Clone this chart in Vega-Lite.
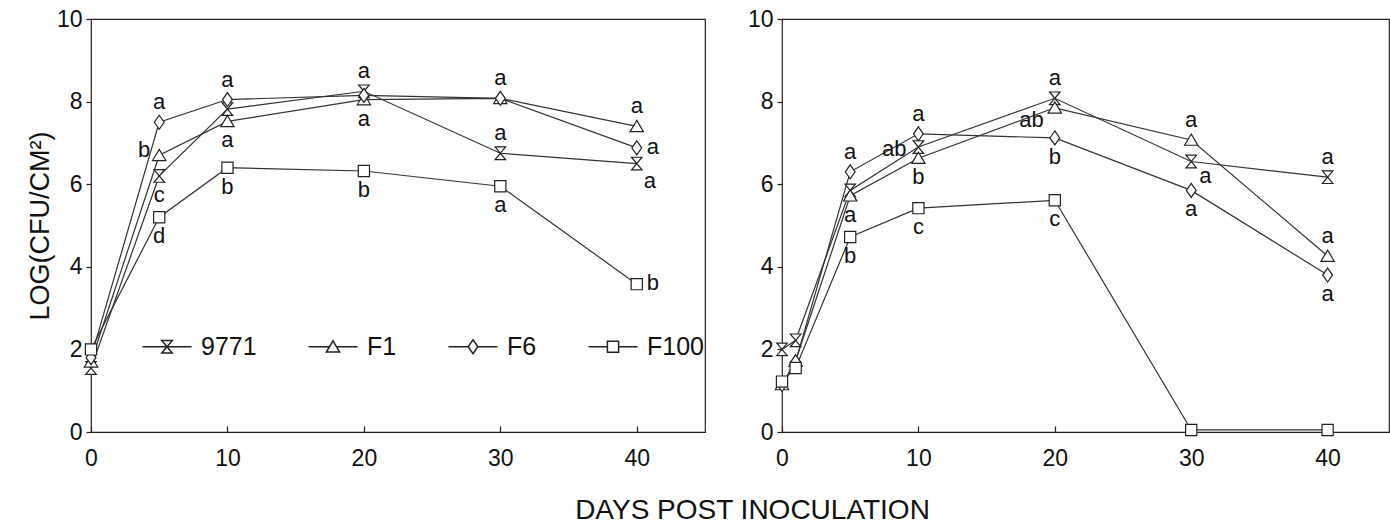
{
  "$schema": "https://vega.github.io/schema/vega-lite/v6.json",
  "background": "white",
  "padding": {"left": 25, "top": 7, "right": 0, "bottom": 0},
  "config": {
    "view": {"stroke": "#222", "strokeWidth": 1.2},
    "font": "Liberation Sans",
    "axis": {"grid": false, "domain": false, "labelColor": "#111", "tickColor": "#222", "tickWidth": 1.2, "labelFont": "Liberation Sans", "labelFontSize": 23, "titleFont": "Liberation Sans", "titleFontWeight": "normal", "titleColor": "#111"},
    "axisX": {"tickSize": -6, "labelPadding": 21, "labelFlush": false},
    "axisY": {"tickSize": 5, "labelPadding": 4},
    "text": {"font": "Liberation Sans", "color": "#111"}
  },
  "datasets": {
    "pts": [
      {"panel": "A", "strain": "9771", "day": 0, "v": 1.55},
      {"panel": "A", "strain": "9771", "day": 5, "v": 6.2},
      {"panel": "A", "strain": "9771", "day": 10, "v": 7.82},
      {"panel": "A", "strain": "9771", "day": 20, "v": 8.25},
      {"panel": "A", "strain": "9771", "day": 30, "v": 6.75},
      {"panel": "A", "strain": "9771", "day": 40, "v": 6.5},
      {"panel": "A", "strain": "F1", "day": 0, "v": 1.7},
      {"panel": "A", "strain": "F1", "day": 5, "v": 6.7},
      {"panel": "A", "strain": "F1", "day": 10, "v": 7.52},
      {"panel": "A", "strain": "F1", "day": 20, "v": 8.05},
      {"panel": "A", "strain": "F1", "day": 30, "v": 8.08},
      {"panel": "A", "strain": "F1", "day": 40, "v": 7.4},
      {"panel": "A", "strain": "F6", "day": 0, "v": 1.8},
      {"panel": "A", "strain": "F6", "day": 5, "v": 7.5},
      {"panel": "A", "strain": "F6", "day": 10, "v": 8.05},
      {"panel": "A", "strain": "F6", "day": 20, "v": 8.15},
      {"panel": "A", "strain": "F6", "day": 30, "v": 8.08},
      {"panel": "A", "strain": "F6", "day": 40, "v": 6.88},
      {"panel": "A", "strain": "F100", "day": 0, "v": 2.0},
      {"panel": "A", "strain": "F100", "day": 5, "v": 5.2},
      {"panel": "A", "strain": "F100", "day": 10, "v": 6.4},
      {"panel": "A", "strain": "F100", "day": 20, "v": 6.32},
      {"panel": "A", "strain": "F100", "day": 30, "v": 5.95},
      {"panel": "A", "strain": "F100", "day": 40, "v": 3.58},
      {"panel": "B", "strain": "9771", "day": 0, "v": 2.0},
      {"panel": "B", "strain": "9771", "day": 1, "v": 2.22},
      {"panel": "B", "strain": "9771", "day": 5, "v": 5.85},
      {"panel": "B", "strain": "9771", "day": 10, "v": 6.9},
      {"panel": "B", "strain": "9771", "day": 20, "v": 8.08},
      {"panel": "B", "strain": "9771", "day": 30, "v": 6.55},
      {"panel": "B", "strain": "9771", "day": 40, "v": 6.17},
      {"panel": "B", "strain": "F1", "day": 0, "v": 1.15},
      {"panel": "B", "strain": "F1", "day": 1, "v": 1.72},
      {"panel": "B", "strain": "F1", "day": 5, "v": 5.72},
      {"panel": "B", "strain": "F1", "day": 10, "v": 6.63},
      {"panel": "B", "strain": "F1", "day": 20, "v": 7.85},
      {"panel": "B", "strain": "F1", "day": 30, "v": 7.07},
      {"panel": "B", "strain": "F1", "day": 40, "v": 4.26},
      {"panel": "B", "strain": "F6", "day": 0, "v": 1.15},
      {"panel": "B", "strain": "F6", "day": 1, "v": 1.7},
      {"panel": "B", "strain": "F6", "day": 5, "v": 6.3},
      {"panel": "B", "strain": "F6", "day": 10, "v": 7.22},
      {"panel": "B", "strain": "F6", "day": 20, "v": 7.12},
      {"panel": "B", "strain": "F6", "day": 30, "v": 5.85},
      {"panel": "B", "strain": "F6", "day": 40, "v": 3.8},
      {"panel": "B", "strain": "F100", "day": 0, "v": 1.22},
      {"panel": "B", "strain": "F100", "day": 1, "v": 1.55},
      {"panel": "B", "strain": "F100", "day": 5, "v": 4.72},
      {"panel": "B", "strain": "F100", "day": 10, "v": 5.42},
      {"panel": "B", "strain": "F100", "day": 20, "v": 5.61},
      {"panel": "B", "strain": "F100", "day": 30, "v": 0.05},
      {"panel": "B", "strain": "F100", "day": 40, "v": 0.05}
    ],
    "ann": [
      {"panel": "A", "strain": "F6", "day": 5, "v": 7.5, "label": "a", "pos": "above"},
      {"panel": "A", "strain": "F1", "day": 5, "v": 6.7, "label": "b", "pos": "left"},
      {"panel": "A", "strain": "9771", "day": 5, "v": 6.2, "label": "c", "pos": "below"},
      {"panel": "A", "strain": "F100", "day": 5, "v": 5.2, "label": "d", "pos": "below"},
      {"panel": "A", "strain": "F6", "day": 10, "v": 8.05, "label": "a", "pos": "above"},
      {"panel": "A", "strain": "F1", "day": 10, "v": 7.52, "label": "a", "pos": "below"},
      {"panel": "A", "strain": "F100", "day": 10, "v": 6.4, "label": "b", "pos": "below"},
      {"panel": "A", "strain": "9771", "day": 20, "v": 8.25, "label": "a", "pos": "above"},
      {"panel": "A", "strain": "F1", "day": 20, "v": 8.05, "label": "a", "pos": "below"},
      {"panel": "A", "strain": "F100", "day": 20, "v": 6.32, "label": "b", "pos": "below"},
      {"panel": "A", "strain": "F1", "day": 30, "v": 8.08, "label": "a", "pos": "above"},
      {"panel": "A", "strain": "9771", "day": 30, "v": 6.75, "label": "a", "pos": "above"},
      {"panel": "A", "strain": "F100", "day": 30, "v": 5.95, "label": "a", "pos": "below"},
      {"panel": "A", "strain": "F1", "day": 40, "v": 7.4, "label": "a", "pos": "above"},
      {"panel": "A", "strain": "F6", "day": 40, "v": 6.88, "label": "a", "pos": "right"},
      {"panel": "A", "strain": "9771", "day": 40, "v": 6.5, "label": "a", "pos": "lowright"},
      {"panel": "A", "strain": "F100", "day": 40, "v": 3.58, "label": "b", "pos": "right"},
      {"panel": "B", "strain": "F6", "day": 5, "v": 6.3, "label": "a", "pos": "above"},
      {"panel": "B", "strain": "F1", "day": 5, "v": 5.72, "label": "a", "pos": "below"},
      {"panel": "B", "strain": "F100", "day": 5, "v": 4.72, "label": "b", "pos": "below"},
      {"panel": "B", "strain": "F6", "day": 10, "v": 7.22, "label": "a", "pos": "above"},
      {"panel": "B", "strain": "9771", "day": 10, "v": 6.9, "label": "ab", "pos": "left"},
      {"panel": "B", "strain": "F1", "day": 10, "v": 6.63, "label": "b", "pos": "below"},
      {"panel": "B", "strain": "F100", "day": 10, "v": 5.42, "label": "c", "pos": "below"},
      {"panel": "B", "strain": "9771", "day": 20, "v": 8.08, "label": "a", "pos": "above"},
      {"panel": "B", "strain": "F1", "day": 20, "v": 7.85, "label": "ab", "pos": "lowleft"},
      {"panel": "B", "strain": "F6", "day": 20, "v": 7.12, "label": "b", "pos": "below"},
      {"panel": "B", "strain": "F100", "day": 20, "v": 5.61, "label": "c", "pos": "below"},
      {"panel": "B", "strain": "F1", "day": 30, "v": 7.07, "label": "a", "pos": "above"},
      {"panel": "B", "strain": "9771", "day": 30, "v": 6.55, "label": "a", "pos": "lowright"},
      {"panel": "B", "strain": "F6", "day": 30, "v": 5.85, "label": "a", "pos": "below"},
      {"panel": "B", "strain": "9771", "day": 40, "v": 6.17, "label": "a", "pos": "above"},
      {"panel": "B", "strain": "F1", "day": 40, "v": 4.26, "label": "a", "pos": "above"},
      {"panel": "B", "strain": "F6", "day": 40, "v": 3.8, "label": "a", "pos": "below"}
    ]
  },
  "spacing": 77,
  "bounds": "flush",
  "hconcat": [
    {
      "width": 614,
      "height": 413,
      "encoding": {
        "x": {"field": "day", "type": "quantitative", "scale": {"domain": [0, 45], "nice": false, "zero": false},
              "axis": {"values": [0, 10, 20, 30, 40], "title": "DAYS POST INOCULATION", "titleFontSize": 28, "titleX": 661, "titleY": 86, "titleBaseline": "alphabetic", "titleAlign": "center", "titleAnchor": null}},
        "y": {"field": "v", "type": "quantitative", "scale": {"domain": [0, 10], "nice": false},
              "axis": {"values": [0, 2, 4, 6, 8, 10], "title": "LOG(CFU/CM²)", "titleFontSize": 27, "titlePadding": 2}}
      },
      "layer": [
        {"data": {"name": "pts"}, "transform": [{"filter": "datum.panel === 'A'"}],
         "mark": {"type": "line", "color": "#333", "strokeWidth": 1.2},
         "encoding": {"detail": {"field": "strain", "type": "nominal"}}},
        {"data": {"name": "pts"}, "transform": [{"filter": "datum.panel === 'A'"}],
         "mark": {"type": "point", "filled": true, "fill": "white", "stroke": "#222", "strokeWidth": 1.2, "size": 196, "opacity": 1},
         "encoding": {"shape": {"field": "strain", "type": "nominal",
           "scale": {"domain": ["9771", "F1", "F6", "F100"], "range": ["M-0.75,-0.9H0.75L-0.75,0.9H0.75Z", "M0,-0.85L0.95,0.75L-0.95,0.75Z", "M0,-1L0.7,0L0,1L-0.7,0Z", "M-0.8,-0.8H0.8V0.8H-0.8Z"]},
           "legend": null}}},
        {"data": {"name": "pts"}, "transform": [{"filter": "datum.panel === 'none'"}],
         "mark": {"type": "point", "filled": true, "fill": "white", "stroke": "#222", "strokeWidth": 1.2, "size": 196, "opacity": 1},
         "encoding": {"shape": {"field": "strain", "type": "nominal",
           "scale": {"domain": ["9771", "F1", "F6", "F100"], "range": ["M-3.5,0H3.5M-0.75,-0.9H0.75L-0.75,0.9H0.75Z", "M-3.5,0H-0.5M0.5,0H3.5M0,-0.85L0.95,0.75L-0.95,0.75Z", "M-3.5,0H-0.7M0.7,0H3.5M0,-1L0.7,0L0,1L-0.7,0Z", "M-3.5,0H-0.8M0.8,0H3.5M-0.8,-0.8H0.8V0.8H-0.8Z"]},
           "legend": {"orient": "none", "legendX": 44, "legendY": 315, "direction": "horizontal", "columns": 4, "title": null,
             "symbolSize": 196, "symbolOffset": 19.5, "labelOffset": 21.5, "columnPadding": 44, "padding": 0,
             "labelFontSize": 25, "labelFont": "Liberation Sans", "labelColor": "#111", "labelLimit": 0,
             "encode": {"symbols": {"update": {
               "size": {"value": 196}, "fill": {"value": "white"}, "stroke": {"value": "#222"}, "strokeWidth": {"value": 1.2}, "opacity": {"value": 1}, "fillOpacity": {"value": 1}, "strokeOpacity": {"value": 1}}}}}}}},
        {"data": {"name": "ann"}, "transform": [{"filter": "datum.panel === 'A' && datum.pos === 'above'"}],
         "mark": {"type": "text", "fontSize": 22, "dy": -20}, "encoding": {"text": {"field": "label"}}},
        {"data": {"name": "ann"}, "transform": [{"filter": "datum.panel === 'A' && datum.pos === 'below'"}],
         "mark": {"type": "text", "fontSize": 22, "dy": 19}, "encoding": {"text": {"field": "label"}}},
        {"data": {"name": "ann"}, "transform": [{"filter": "datum.panel === 'A' && datum.pos === 'left'"}],
         "mark": {"type": "text", "fontSize": 22, "align": "right", "dx": -9, "dy": -5}, "encoding": {"text": {"field": "label"}}},
        {"data": {"name": "ann"}, "transform": [{"filter": "datum.panel === 'A' && datum.pos === 'right'"}],
         "mark": {"type": "text", "fontSize": 22, "align": "left", "dx": 10, "dy": -1}, "encoding": {"text": {"field": "label"}}},
        {"data": {"name": "ann"}, "transform": [{"filter": "datum.panel === 'A' && datum.pos === 'lowright'"}],
         "mark": {"type": "text", "fontSize": 22, "align": "left", "dx": 7, "dy": 17}, "encoding": {"text": {"field": "label"}}},
        {"data": {"values": [{}]}, "mark": {"type": "text", "fontSize": 27, "text": "SWINGLE CITRUMELO"},
         "encoding": {"x": {"datum": 20.7, "type": "quantitative"}, "y": {"datum": 9.52, "type": "quantitative"}}},
        {"data": {"values": [{}]}, "mark": {"type": "text", "fontSize": 50, "text": "A"},
         "encoding": {"x": {"datum": 43.4, "type": "quantitative"}, "y": {"datum": 9.2, "type": "quantitative"}}}
      ],
      "resolve": {"scale": {"shape": "independent"}, "legend": {"shape": "independent"}}
    },
    {
      "width": 607,
      "height": 413,
      "encoding": {
        "x": {"field": "day", "type": "quantitative", "scale": {"domain": [0, 44.5], "nice": false, "zero": false}, "axis": {"values": [0, 10, 20, 30, 40], "title": null}},
        "y": {"field": "v", "type": "quantitative", "scale": {"domain": [0, 10], "nice": false}, "axis": {"values": [0, 2, 4, 6, 8, 10], "title": null}}
      },
      "layer": [
        {"data": {"name": "pts"}, "transform": [{"filter": "datum.panel === 'B'"}],
         "mark": {"type": "line", "color": "#333", "strokeWidth": 1.2},
         "encoding": {"detail": {"field": "strain", "type": "nominal"}}},
        {"data": {"name": "pts"}, "transform": [{"filter": "datum.panel === 'B'"}],
         "mark": {"type": "point", "filled": true, "fill": "white", "stroke": "#222", "strokeWidth": 1.2, "size": 196, "opacity": 1},
         "encoding": {"shape": {"field": "strain", "type": "nominal",
           "scale": {"domain": ["9771", "F1", "F6", "F100"], "range": ["M-0.75,-0.9H0.75L-0.75,0.9H0.75Z", "M0,-0.85L0.95,0.75L-0.95,0.75Z", "M0,-1L0.7,0L0,1L-0.7,0Z", "M-0.8,-0.8H0.8V0.8H-0.8Z"]},
           "legend": null}}},
        {"data": {"name": "ann"}, "transform": [{"filter": "datum.panel === 'B' && datum.pos === 'above'"}],
         "mark": {"type": "text", "fontSize": 22, "dy": -20}, "encoding": {"text": {"field": "label"}}},
        {"data": {"name": "ann"}, "transform": [{"filter": "datum.panel === 'B' && datum.pos === 'below'"}],
         "mark": {"type": "text", "fontSize": 22, "dy": 19}, "encoding": {"text": {"field": "label"}}},
        {"data": {"name": "ann"}, "transform": [{"filter": "datum.panel === 'B' && datum.pos === 'left'"}],
         "mark": {"type": "text", "fontSize": 22, "align": "right", "dx": -12, "dy": 2}, "encoding": {"text": {"field": "label"}}},
        {"data": {"name": "ann"}, "transform": [{"filter": "datum.panel === 'B' && datum.pos === 'lowleft'"}],
         "mark": {"type": "text", "fontSize": 22, "align": "right", "dx": -11, "dy": 12}, "encoding": {"text": {"field": "label"}}},
        {"data": {"name": "ann"}, "transform": [{"filter": "datum.panel === 'B' && datum.pos === 'lowright'"}],
         "mark": {"type": "text", "fontSize": 22, "align": "left", "dx": 8, "dy": 15}, "encoding": {"text": {"field": "label"}}},
        {"data": {"values": [{}]}, "mark": {"type": "text", "fontSize": 27, "text": "DUNCAN GRAPEFRUIT"},
         "encoding": {"x": {"datum": 21.3, "type": "quantitative"}, "y": {"datum": 9.36, "type": "quantitative"}}},
        {"data": {"values": [{}]}, "mark": {"type": "text", "fontSize": 50, "text": "B"},
         "encoding": {"x": {"datum": 43.2, "type": "quantitative"}, "y": {"datum": 9.39, "type": "quantitative"}}}
      ]
    }
  ]
}
